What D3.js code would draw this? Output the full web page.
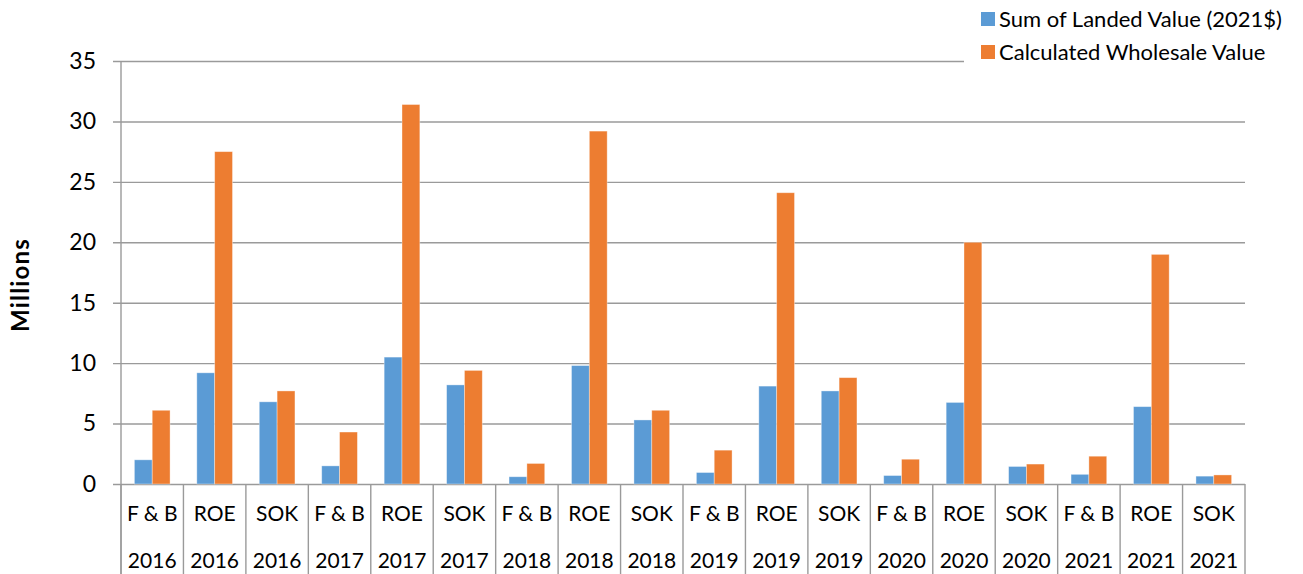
<!DOCTYPE html>
<html>
<head>
<meta charset="utf-8">
<script src="https://cdn.jsdelivr.net/npm/d3@7"></script>
<style>
  html, body { margin: 0; padding: 0; background: #fff; }
  svg { display: block; }
  text { font-family: Lato, "Open Sans", sans-serif; fill: #000; }
</style>
</head>
<body>
<svg id="chart" width="1303" height="574"></svg>
<script>
// Species group and year for each category on the x axis
const species = ["F & B", "ROE", "SOK", "F & B", "ROE", "SOK", "F & B", "ROE", "SOK",
                 "F & B", "ROE", "SOK", "F & B", "ROE", "SOK", "F & B", "ROE", "SOK"];
const years = ["2016", "2016", "2016", "2017", "2017", "2017", "2018", "2018", "2018",
               "2019", "2019", "2019", "2020", "2020", "2020", "2021", "2021", "2021"];

// Values in millions of dollars
const landedValue = [2.0, 9.2, 6.8, 1.5, 10.5, 8.2, 0.6, 9.8, 5.3,
                     0.95, 8.1, 7.7, 0.7, 6.75, 1.45, 0.8, 6.4, 0.65];
const wholesaleValue = [6.1, 27.5, 7.7, 4.3, 31.4, 9.4, 1.7, 29.2, 6.1,
                        2.8, 24.1, 8.8, 2.05, 20.0, 1.65, 2.3, 19.0, 0.75];

const seriesNames = ["Sum of Landed Value (2021$)", "Calculated Wholesale Value"];
const yTicks = [0, 5, 10, 15, 20, 25, 30, 35];

const colors = ["#5B9BD5", "#ED7D31"];
const gridColor = "#9a9a9a";

const svg = d3.select("#chart");

const plot = { left: 121, right: 1245, top: 61, bottom: 484 };

const x = d3.scaleBand()
  .domain(d3.range(species.length))
  .range([plot.left, plot.right])
  .padding(0);

const xInner = d3.scaleBand()
  .domain([0, 1])
  .range([0, x.bandwidth()])
  .paddingInner(0)
  .paddingOuter(0.75);

const y = d3.scaleLinear().domain([0, 35]).range([plot.bottom, plot.top]);

// Horizontal gridlines with tick labels on the left
const tickLen = 8;
const yAxis = d3.axisLeft(y)
  .tickValues(yTicks)
  .tickFormat(d3.format("d"))
  .tickSizeInner(plot.right - plot.left + tickLen)
  .tickSizeOuter(0)
  .tickPadding(17);

const gy = svg.append("g")
  .attr("transform", `translate(${plot.right},0)`)
  .call(yAxis);
gy.select(".domain").remove();
gy.selectAll(".tick line").attr("stroke", gridColor).attr("stroke-width", 1.4);
gy.selectAll(".tick text")
  .attr("font-size", 23)
  .style("font-family", "Lato, sans-serif");

// Vertical value axis line
svg.append("line")
  .attr("x1", plot.left).attr("x2", plot.left)
  .attr("y1", plot.top).attr("y2", 574)
  .attr("stroke", gridColor).attr("stroke-width", 1.4);

// Bars
const rows = species.map((s, i) => ({ i, vals: [landedValue[i], wholesaleValue[i]] }));
const groups = svg.append("g").selectAll("g")
  .data(rows)
  .join("g")
  .attr("transform", d => `translate(${x(d.i)},0)`);

groups.selectAll("rect")
  .data(d => d.vals.map((v, k) => ({ v, k })))
  .join("rect")
  .attr("x", d => xInner(d.k))
  .attr("width", xInner.bandwidth())
  .attr("y", d => y(d.v))
  .attr("height", d => y(0) - y(d.v))
  .attr("fill", d => colors[d.k])
  .attr("stroke", "rgba(255,255,255,0.45)")
  .attr("stroke-width", 0.8);

// Category separators below the axis
const bounds = d3.range(species.length + 1).map(i =>
  i < species.length ? x(i) : x(species.length - 1) + x.bandwidth());
svg.append("g").selectAll("line")
  .data(bounds)
  .join("line")
  .attr("x1", d => d).attr("x2", d => d)
  .attr("y1", plot.bottom).attr("y2", 574)
  .attr("stroke", gridColor).attr("stroke-width", 1.4);

// Two rows of category labels
const labelRow = (fmt, pad) => {
  const g = svg.append("g")
    .attr("transform", `translate(0,${plot.bottom})`)
    .call(d3.axisBottom(x).tickFormat(fmt).tickSize(0).tickPadding(pad));
  g.select(".domain").remove();
  g.selectAll(".tick text").attr("font-size", 21).style("font-family", "Lato, sans-serif");
};
labelRow(i => species[i], 22);
labelRow(i => years[i], 69);

// Value axis title
svg.append("text")
  .attr("transform", `translate(29,285) rotate(-90)`)
  .attr("text-anchor", "middle")
  .attr("font-size", 24)
  .attr("font-weight", "bold")
  .attr("letter-spacing", 1.2)
  .text("Millions");

// Legend
const legend = svg.append("g");
legend.append("rect")
  .attr("x", 964).attr("y", 0).attr("width", 339).attr("height", 68)
  .attr("fill", "#fff");
const items = legend.selectAll("g.item")
  .data(seriesNames)
  .join("g")
  .attr("class", "item")
  .attr("transform", (d, k) => `translate(981,${12 + k * 33})`);
items.append("rect")
  .attr("width", 14).attr("height", 14)
  .attr("fill", (d, k) => colors[k]);
items.append("text")
  .attr("x", 18).attr("y", 15)
  .attr("font-size", 22)
  .text(d => d);
</script>
</body>
</html>
